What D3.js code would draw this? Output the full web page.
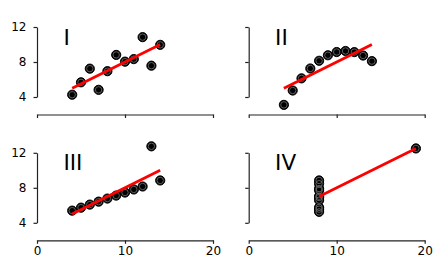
<!DOCTYPE html>
<html>
<head>
<meta charset="utf-8">
<script src="https://cdn.jsdelivr.net/npm/d3@7"></script>
<style>
  body { margin: 0; background: #fff; }
  svg { display: block; }
  .axis path, .axis line { stroke: #222; stroke-width: 1.2; }
  .axis text { font-family: "DejaVu Sans", sans-serif; font-size: 12px; fill: #000; }
  .panel-label { font-family: "DejaVu Sans", sans-serif; font-size: 21.5px; fill: #000; }
</style>
</head>
<body>
<div id="chart"></div>
<script>
// Anscombe's quartet: four datasets sharing the same linear fit y = 3 + 0.5x.
const xShared = [10, 8, 13, 9, 11, 14, 6, 4, 12, 7, 5];
const y1 = [8.04, 6.95, 7.58, 8.81, 8.33, 9.96, 7.24, 4.26, 10.84, 4.82, 5.68];
const y2 = [9.14, 8.14, 8.74, 8.77, 9.26, 8.10, 6.13, 3.10, 9.13, 7.26, 4.74];
const y3 = [7.46, 6.77, 12.74, 7.11, 7.81, 8.84, 6.08, 5.39, 8.15, 6.42, 5.73];
const x4 = [8, 8, 8, 8, 8, 8, 8, 19, 8, 8, 8];
const y4 = [6.58, 5.76, 7.71, 8.84, 8.47, 7.04, 5.25, 12.50, 5.56, 7.91, 6.89];

const panelLabels = ['I', 'II', 'III', 'IV'];
const xTicks = [0, 10, 20];
const yTicks = [4, 8, 12];
const fitIntercept = 3;
const fitSlope = 0.5;

const d3 = window.d3;
const W = 444, H = 274;
const svg = d3.select('#chart').append('svg').attr('width', W).attr('height', H);

// panel grid: left edge of x=0 for each column, top edge (y=12) for each row
const colX = [37, 248.7];
const rowY = [27, 152.8];
const innerW = 176, innerH = 70;

const x = d3.scaleLinear().domain([0, 20]).range([0, innerW]);
const y = d3.scaleLinear().domain([4, 12]).range([innerH, 0]);

const panels = [
  { xs: xShared, ys: y1 },
  { xs: xShared, ys: y2 },
  { xs: xShared, ys: y3 },
  { xs: x4, ys: y4 },
];

panels.forEach((p, i) => {
  const col = i % 2, row = Math.floor(i / 2);
  const g = svg.append('g').attr('transform', `translate(${colX[col]},${rowY[row]})`);

  // y spine trimmed to tick range; labels only on left column
  const yAxis = d3.axisLeft(y).tickValues(yTicks).tickSize(3.5).tickSizeOuter(0).tickPadding(7);
  if (col === 1) yAxis.tickFormat('');
  g.append('g').attr('class', 'axis').call(yAxis);

  // x spine sits at y=2; labels only on bottom row
  const xAxis = d3.axisBottom(x).tickValues(xTicks).tickSize(3.5).tickSizeOuter(0).tickPadding(2.5);
  if (row === 0) xAxis.tickFormat('');
  g.append('g').attr('class', 'axis').attr('transform', `translate(0,${y(2)})`).call(xAxis);

  const pts = p.xs.map((d, k) => [d, p.ys[k]]);

  // markers: black disc with a grey inner ring
  const m = g.append('g');
  m.selectAll('circle.dot')
    .data(pts)
    .join('circle')
    .attr('class', 'dot')
    .attr('cx', (d) => x(d[0]))
    .attr('cy', (d) => y(d[1]))
    .attr('r', 4.6)
    .attr('fill', '#000')
    .attr('stroke', '#000')
    .attr('stroke-width', 1);
  m.selectAll('circle.ring')
    .data(pts)
    .join('circle')
    .attr('class', 'ring')
    .attr('cx', (d) => x(d[0]))
    .attr('cy', (d) => y(d[1]))
    .attr('r', 3.2)
    .attr('fill', 'none')
    .attr('stroke', '#6a6a6a')
    .attr('stroke-width', 0.9);

  // fit line from min x to max x
  const xMin = d3.min(p.xs), xMax = d3.max(p.xs);
  const fit = (v) => fitIntercept + fitSlope * v;
  g.append('line')
    .attr('x1', x(xMin)).attr('y1', y(fit(xMin)))
    .attr('x2', x(xMax)).attr('y2', y(fit(xMax)))
    .attr('stroke', '#ff0000')
    .attr('stroke-width', 2.8);

  g.append('text')
    .attr('class', 'panel-label')
    .attr('x', x(3))
    .attr('y', y(10))
    .text(panelLabels[i]);
});
</script>
</body>
</html>
